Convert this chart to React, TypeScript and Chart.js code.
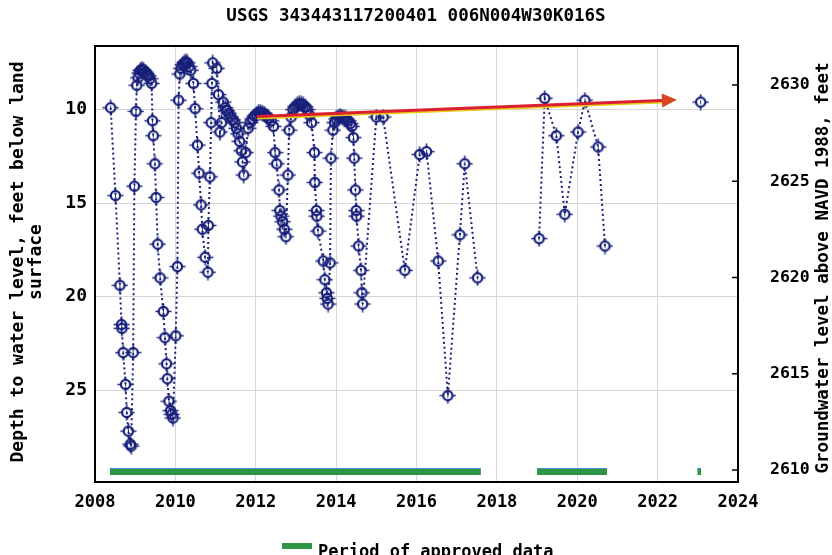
import React, { useEffect, useRef } from "react";
import { Chart, registerables } from "chart.js";
Chart.register(...registerables);

const TITLE = "USGS 343443117200401 006N004W30K016S";
const LEFT_TITLE = ["Depth to water level, feet below land", "surface"];
const RIGHT_TITLE = "Groundwater level above NAVD 1988, feet";
const LEGEND_LABEL = "Period of approved data";

const years: number[] = [
  2008.39, 2008.51, 2008.62, 2008.66, 2008.67, 2008.70, 2008.76, 2008.79, 2008.83, 2008.88, 2008.90,
  2008.95, 2008.98, 2009.02, 2009.04, 2009.07, 2009.10, 2009.13, 2009.17, 2009.21, 2009.25, 2009.29,
  2009.33, 2009.37, 2009.41, 2009.43, 2009.45, 2009.49, 2009.52, 2009.56, 2009.62, 2009.70, 2009.74,
  2009.78, 2009.80, 2009.84, 2009.88, 2009.91, 2009.94,
  2010.01, 2010.05, 2010.08, 2010.11, 2010.14, 2010.18, 2010.22, 2010.26, 2010.30, 2010.34, 2010.38,
  2010.45, 2010.49, 2010.55, 2010.59, 2010.64, 2010.67, 2010.74, 2010.81, 2010.82, 2010.86, 2010.89,
  2010.91, 2010.93,
  2011.03, 2011.07, 2011.11, 2011.15, 2011.19, 2011.24, 2011.28, 2011.33, 2011.38, 2011.43, 2011.48,
  2011.52, 2011.56, 2011.60, 2011.64, 2011.67, 2011.70, 2011.75, 2011.81, 2011.86, 2011.92, 2011.97,
  2012.02, 2012.07, 2012.12, 2012.17, 2012.22, 2012.27, 2012.32, 2012.38, 2012.44, 2012.48, 2012.52,
  2012.58, 2012.60, 2012.63, 2012.67, 2012.71, 2012.75, 2012.80, 2012.83, 2012.88, 2012.93, 2012.98,
  2013.03, 2013.08, 2013.13, 2013.18, 2013.23, 2013.28, 2013.34, 2013.39, 2013.46, 2013.47, 2013.51,
  2013.52, 2013.55, 2013.68, 2013.72, 2013.76, 2013.78, 2013.80, 2013.85, 2013.87, 2013.92, 2013.96,
  2014.00, 2014.05, 2014.10, 2014.15, 2014.20, 2014.25, 2014.30, 2014.35, 2014.39, 2014.43, 2014.45,
  2014.48, 2014.50, 2014.51, 2014.56, 2014.62, 2014.64, 2014.66,
  2015.00, 2015.17, 2015.71, 2016.08, 2016.25, 2016.54, 2016.78, 2017.08, 2017.20, 2017.52,
  2018.30,
  2019.05, 2019.19, 2019.48, 2019.69, 2020.02, 2020.19, 2020.52, 2020.69,
  2021.90,
  2023.07,
];

const depths: (number | null)[] = [
  9.9, 14.6, 19.4, 21.5, 21.7, 23.0, 24.7, 26.2, 27.2, 27.9, 28.0,
  23.0, 14.1, 10.1, 8.7, 8.3, 8.05, 7.9, 7.85, 7.9, 8.0, 8.1,
  8.2, 8.35, 8.6, 10.6, 11.4, 12.9, 14.7, 17.2, 19.0, 20.8, 22.2,
  23.6, 24.4, 25.6, 26.1, 26.3, 26.5,
  22.1, 18.4, 9.5, 8.1, 7.8, 7.6, 7.5, 7.45, 7.5, 7.7, 7.9,
  8.6, 9.95, 11.9, 13.4, 15.1, 16.4, 17.9, 18.7, 16.2, 13.6, 10.7,
  8.6, 7.5,
  7.8, 9.2, 11.2, 10.7, 9.6, 9.9, 10.05, 10.2, 10.4, 10.55, 10.7,
  11.0, 11.3, 11.7, 12.2, 12.8, 13.5, 12.3, 11.0, 10.7, 10.5, 10.35,
  10.25, 10.15, 10.15, 10.2, 10.25, 10.35, 10.45, 10.6, 10.9, 12.3, 12.9,
  14.3, 15.4, 15.7, 16.0, 16.4, 16.8, 13.5, 11.1, 10.4, 10.0, 9.85,
  9.75, 9.7, 9.7, 9.75, 9.85, 10.0, 10.3, 10.7, 12.3, 13.9, 15.4,
  15.7, 16.5, 18.1, 19.1, 19.8, 20.1, 20.4, 18.2, 12.6, 11.1, 10.7,
  10.5, 10.4, 10.35, 10.4, 10.45, 10.5, 10.6, 10.75, 10.9, 11.5, 12.6,
  14.3, 15.4, 15.7, 17.3, 18.6, 19.8, 20.4,
  10.4, 10.4, 18.6, 12.4, 12.25, 18.1, 25.3, 16.7, 12.9, 19.0,
  null,
  16.9, 9.4, 11.4, 15.6, 11.2, 9.5, 12.0, 17.3,
  null,
  9.6,
];

const xTicks = [2008, 2010, 2012, 2014, 2016, 2018, 2020, 2022, 2024];
const depthTicks = [10, 15, 20, 25];
const elevTicks = [2610, 2615, 2620, 2625, 2630];
const xRange = [2008, 2024];
const depthRange = [6.6, 29.92];
const elevRange = [2609.38, 2632.03];

const approvedStart = [2008.37, 2019.0, 2022.99];
const approvedEnd = [2017.6, 2020.74, 2023.08];

const trendYears = [2012.03, 2022.48];
const trendDepths = [10.37, 9.48];

const NAVY = "#18207a";
const FONT = '"DejaVu Sans Mono", monospace';

function makeMarker(): HTMLCanvasElement {
  const c = document.createElement("canvas");
  c.width = 17;
  c.height = 17;
  const g = c.getContext("2d")!;
  g.strokeStyle = NAVY;
  g.lineWidth = 2.2;
  g.beginPath();
  g.arc(8.5, 8.5, 4.6, 0, Math.PI * 2);
  g.stroke();
  g.lineWidth = 1.6;
  g.beginPath();
  g.moveTo(8.5, 0.5); g.lineTo(8.5, 3.5);
  g.moveTo(8.5, 13.5); g.lineTo(8.5, 16.5);
  g.moveTo(0.5, 8.5); g.lineTo(3.5, 8.5);
  g.moveTo(13.5, 8.5); g.lineTo(16.5, 8.5);
  g.stroke();
  g.lineWidth = 1;
  g.beginPath();
  g.moveTo(8.5, 6.5); g.lineTo(8.5, 10.5);
  g.stroke();
  return c;
}

const decor = {
  id: "decor",
  afterDraw(chart: any) {
    const { ctx, chartArea: a, scales } = chart;
    const x = scales.x, y = scales.y, y2 = scales.y2;
    ctx.save();

    // approved periods
    for (let i = 0; i < approvedStart.length; i++) {
      const x0 = x.getPixelForValue(approvedStart[i]);
      const x1 = x.getPixelForValue(approvedEnd[i]);
      ctx.fillStyle = "#2f9443";
      ctx.fillRect(x0, a.bottom - 14, Math.max(2, x1 - x0), 7);
      ctx.fillStyle = "#4a8fd0";
      ctx.fillRect(x0, a.bottom - 14, Math.max(2, x1 - x0), 1);
    }

    // trend arrow
    const px0 = x.getPixelForValue(trendYears[0]);
    const py0 = y.getPixelForValue(trendDepths[0]);
    const px1 = x.getPixelForValue(trendYears[1]);
    const py1 = y.getPixelForValue(trendDepths[1]);
    const ang = Math.atan2(py1 - py0, px1 - px0);
    const headLen = 15;
    const bx = px1 - headLen * Math.cos(ang);
    const by = py1 - headLen * Math.sin(ang);
    ctx.lineCap = "butt";
    ctx.strokeStyle = "#e8cc1a";
    ctx.lineWidth = 2;
    ctx.beginPath();
    ctx.moveTo(px0, py0 + 2);
    ctx.lineTo(bx, by + 2);
    ctx.stroke();
    ctx.strokeStyle = "#dc1f30";
    ctx.lineWidth = 3;
    ctx.beginPath();
    ctx.moveTo(px0, py0);
    ctx.lineTo(bx, by);
    ctx.stroke();
    ctx.fillStyle = "#d9441f";
    ctx.beginPath();
    ctx.moveTo(px1, py1);
    ctx.lineTo(bx + 7 * Math.sin(ang), by - 7 * Math.cos(ang));
    ctx.lineTo(bx - 7 * Math.sin(ang), by + 7 * Math.cos(ang));
    ctx.closePath();
    ctx.fill();

    // frame
    ctx.strokeStyle = "#000";
    ctx.lineWidth = 2;
    ctx.strokeRect(a.left, a.top, a.right - a.left, a.bottom - a.top);

    // right inward ticks
    ctx.lineWidth = 1.5;
    ctx.beginPath();
    for (const t of elevTicks) {
      const py = y2.getPixelForValue(t);
      ctx.moveTo(a.right - 6, py);
      ctx.lineTo(a.right, py);
    }
    ctx.stroke();

    ctx.fillStyle = "#000";
    // title
    ctx.font = `bold 17.5px ${FONT}`;
    ctx.textAlign = "center";
    ctx.textBaseline = "middle";
    ctx.fillText(TITLE, 416, 16);

    // left title
    ctx.font = `bold 18px ${FONT}`;
    ctx.save();
    ctx.translate(18, 262);
    ctx.rotate(-Math.PI / 2);
    ctx.fillText(LEFT_TITLE[0], 0, 0);
    ctx.restore();
    ctx.save();
    ctx.translate(36, 262);
    ctx.rotate(-Math.PI / 2);
    ctx.fillText(LEFT_TITLE[1], 0, 0);
    ctx.restore();

    // right title
    ctx.font = `bold 17.5px ${FONT}`;
    ctx.save();
    ctx.translate(823, 268);
    ctx.rotate(-Math.PI / 2);
    ctx.fillText(RIGHT_TITLE, 0, 0);
    ctx.restore();

    // legend
    ctx.fillStyle = "#2f9443";
    ctx.fillRect(282, 543, 30, 6);
    ctx.fillStyle = "#000";
    ctx.textAlign = "left";
    ctx.textBaseline = "alphabetic";
    ctx.font = `bold 17px ${FONT}`;
    ctx.fillText(LEGEND_LABEL, 318, 557);

    ctx.restore();
  },
};

export default function App() {
  const ref = useRef<HTMLCanvasElement>(null);
  useEffect(() => {
    const canvas = ref.current!;
    const marker = makeMarker();
    const pts = years.map((yr, i) => ({ x: yr, y: depths[i] }));
    const chart = new Chart(canvas, {
      type: "line",
      data: {
        datasets: [
          {
            data: pts as any,
            yAxisID: "y",
            borderColor: NAVY,
            borderWidth: 2,
            borderDash: [2, 3],
            tension: 0,
            spanGaps: false,
            pointStyle: marker as any,
            pointRadius: 6,
            pointHoverRadius: 6,
          },
        ],
      },
      options: {
        animation: false,
        responsive: false,
        devicePixelRatio: 1,
        events: [],
        layout: { padding: { top: 46, left: 0, right: 0, bottom: 0 }, autoPadding: false },
        plugins: { legend: { display: false }, tooltip: { enabled: false }, title: { display: false } },
        scales: {
          x: {
            type: "linear",
            min: xRange[0],
            max: xRange[1],
            afterBuildTicks: (s: any) => { s.ticks = xTicks.map((v) => ({ value: v })); },
            afterFit: (s: any) => { s.height = 73; },
            grid: { color: "#d6d6d6", lineWidth: 1, drawTicks: false },
            border: { display: false },
            ticks: {
              padding: 10,
              color: "#000",
              font: { family: FONT, size: 17, weight: "bold" },
              callback: (v: any) => String(v),
              maxRotation: 0,
            },
          },
          y: {
            type: "linear",
            position: "left",
            reverse: true,
            min: depthRange[0],
            max: depthRange[1],
            afterBuildTicks: (s: any) => { s.ticks = depthTicks.map((v) => ({ value: v })); },
            afterFit: (s: any) => { s.width = 95; },
            grid: { color: "#d6d6d6", lineWidth: 1, drawTicks: false },
            border: { display: false },
            ticks: {
              padding: 8,
              color: "#000",
              font: { family: FONT, size: 18, weight: "bold" },
              callback: (v: any) => String(v),
            },
          },
          y2: {
            type: "linear",
            position: "right",
            min: elevRange[0],
            max: elevRange[1],
            afterBuildTicks: (s: any) => { s.ticks = elevTicks.map((v) => ({ value: v })); },
            afterFit: (s: any) => { s.width = 94; },
            grid: { display: false, drawTicks: false },
            border: { display: false },
            ticks: {
              padding: 32,
              color: "#000",
              font: { family: FONT, size: 16.5, weight: "bold" },
              callback: (v: any) => String(v),
            },
          },
        },
      },
      plugins: [decor],
    });
    return () => chart.destroy();
  }, []);
  return (
    <div style={{ position: "fixed", left: 0, top: 0, width: 832, height: 555, background: "#fff" }}>
      <canvas ref={ref} width={832} height={555} style={{ width: 832, height: 555, display: "block" }} />
    </div>
  );
}
